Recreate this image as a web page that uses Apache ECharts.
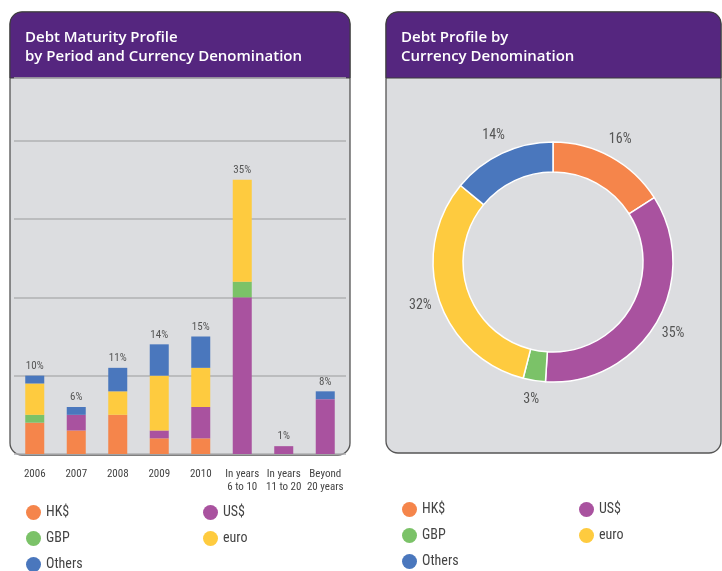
<!DOCTYPE html>
<html>
<head>
<meta charset="utf-8">
<title>Debt Profile</title>
<script src="https://cdn.jsdelivr.net/npm/echarts@6/dist/echarts.min.js"></script>
<style>
  html, body { margin: 0; padding: 0; background: #fff; }
  #main { width: 722px; height: 571px; }
</style>
</head>
<body>
<div id="main"></div>
<script>
// data (percent of total debt)
var periods = ['2006', '2007', '2008', '2009', '2010', 'In years\n6 to 10', 'In years\n11 to 20', 'Beyond\n20 years'];
var hkd    = [4, 3, 5, 2, 2, 0, 0, 0];
var usd    = [0, 2, 0, 1, 4, 20, 1, 7];
var gbp    = [1, 0, 0, 0, 0, 2, 0, 0];
var euro   = [4, 0, 3, 7, 5, 13, 0, 0];
var others = [1, 1, 3, 4, 4, 0, 0, 1];

var currencies = ['HK$', 'US$', 'GBP', 'euro', 'Others'];
var currencyShares = [16, 35, 3, 32, 14];

var colors = {
    'HK$': '#f5854b',
    'US$': '#a9529f',
    'GBP': '#7bc268',
    'euro': '#fecb3f',
    'Others': '#4a77bd'
};

var narrow = "'Roboto Condensed', 'Noto Sans Condensed', 'Open Sans Condensed', 'Liberation Sans Narrow', 'DejaVu Sans Condensed', Roboto, sans-serif";
var headFont = "'Open Sans', 'Noto Sans', sans-serif";
var purple = '#55267f';
var panelGrey = '#dcdde0';

var totals = periods.map(function (p, i) {
    return hkd[i] + usd[i] + gbp[i] + euro[i] + others[i];
});

var barSeries = [
    ['HK$', hkd], ['US$', usd], ['GBP', gbp], ['euro', euro], ['Others', others]
].map(function (s) {
    return {
        name: s[0],
        type: 'bar',
        stack: 'debt',
        barWidth: 19,
        itemStyle: { color: colors[s[0]] },
        data: s[1]
    };
});

// zero height bar on top of each stack, only carries the total label
barSeries.push({
    name: 'total',
    type: 'bar',
    stack: 'debt',
    barWidth: 19,
    silent: true,
    itemStyle: { color: 'transparent' },
    label: {
        show: true,
        position: 'top',
        distance: 4,
        color: '#555',
        fontFamily: narrow,
        fontSize: 11,
        formatter: function (p) { return totals[p.dataIndex] + '%'; }
    },
    data: periods.map(function () { return 0; })
});

var pieData = currencies.map(function (c, i) {
    return { name: c, value: currencyShares[i], itemStyle: { color: colors[c] } };
});

function legendBlock(names, left, top) {
    return {
        data: names,
        orient: 'vertical',
        left: left,
        top: top,
        height: 90,
        padding: 0,
        icon: 'circle',
        itemWidth: 15,
        itemHeight: 15,
        itemGap: 11,
        textStyle: { color: '#444', fontFamily: narrow, fontSize: 14 }
    };
}

var chart = echarts.init(document.getElementById('main'));
var option = {
    animation: false,
    graphic: [
        { type: 'rect', z: -10, shape: { x: 10, y: 12, width: 340, height: 443, r: 12 },
          style: { fill: panelGrey, stroke: '#555', lineWidth: 1.3 } },
        { type: 'rect', z: -9, shape: { x: 10, y: 12, width: 340, height: 66, r: [12, 12, 0, 0] },
          style: { fill: purple, stroke: '#3d3d3d', lineWidth: 1 } },
        { type: 'rect', z: -10, shape: { x: 386, y: 12, width: 335, height: 441, r: 12 },
          style: { fill: panelGrey, stroke: '#555', lineWidth: 1.3 } },
        { type: 'rect', z: -9, shape: { x: 386, y: 12, width: 335, height: 66, r: [12, 12, 0, 0] },
          style: { fill: purple, stroke: '#3d3d3d', lineWidth: 1 } }
    ],
    title: [
        {
            text: 'Debt Maturity Profile\nby Period and Currency Denomination',
            left: 25, top: 28, padding: 0,
            textStyle: { color: '#fff', fontFamily: headFont, fontWeight: 600, fontSize: 15, lineHeight: 19 }
        },
        {
            text: 'Debt Profile by\nCurrency Denomination',
            left: 401, top: 28, padding: 0,
            textStyle: { color: '#fff', fontFamily: headFont, fontWeight: 600, fontSize: 15, lineHeight: 19 }
        }
    ],
    legend: [
        legendBlock(['HK$', 'GBP', 'Others'], 26, 505),
        legendBlock(['US$', 'euro'], 203, 505),
        legendBlock(['HK$', 'GBP', 'Others'], 402, 502),
        legendBlock(['US$', 'euro'], 579, 502)
    ],
    grid: { left: 14, right: 376, top: 78, bottom: 117 },
    xAxis: {
        type: 'category',
        data: periods,
        axisLine: { show: false },
        axisTick: { show: false },
        axisLabel: { color: '#444', fontFamily: narrow, fontSize: 11, lineHeight: 13.5, margin: 13, interval: 0 }
    },
    yAxis: {
        type: 'value',
        min: 0,
        max: 48,
        interval: 10,
        axisLabel: { show: false },
        axisLine: { show: false },
        axisTick: { show: false },
        splitLine: { lineStyle: { color: '#b0b0b3', width: 1.5 } }
    },
    series: barSeries.concat([
        {
            name: 'Currency',
            type: 'pie',
            center: [553, 262],
            radius: [90, 120],
            startAngle: 90,
            clockwise: true,
            label: { show: false },
            labelLine: { show: false },
            itemStyle: { borderColor: '#fff', borderWidth: 1.5 },
            data: pieData
        },
        {
            name: 'Currency labels',
            type: 'pie',
            center: [553, 262],
            radius: [124, 149],
            startAngle: 90,
            clockwise: true,
            silent: true,
            itemStyle: { color: 'transparent' },
            label: {
                show: true,
                position: 'inside',
                color: '#555',
                fontFamily: narrow,
                fontSize: 14,
                formatter: '{c}%'
            },
            labelLine: { show: false },
            data: currencies.map(function (c, i) { return { name: c, value: currencyShares[i] }; })
        }
    ])
};
chart.setOption(option);
</script>
</body>
</html>
